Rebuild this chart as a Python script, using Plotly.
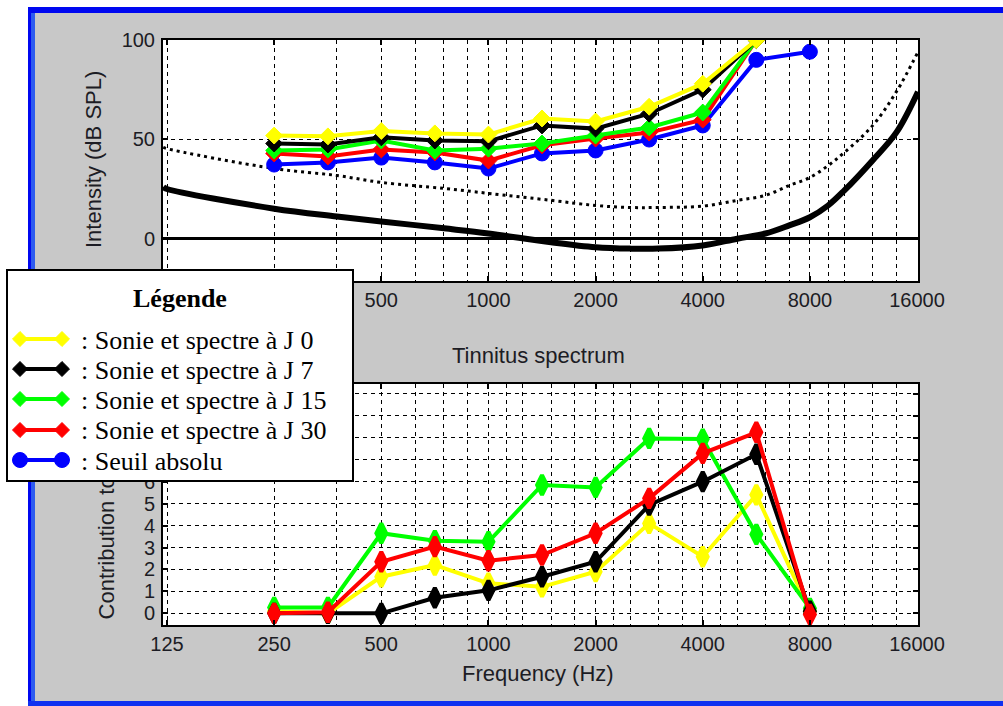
import math
import plotly.graph_objects as go

W, H = 1003, 706

# ---------------- data ----------------
freqs = [250, 354, 500, 707, 1000, 1414, 2000, 2828, 4000, 5657, 8000]
top_freqs = freqs[:10]

# Intensity (dB SPL) - top chart
int_j0 = [51.9, 51.5, 54.2, 53.0, 52.4, 60.5, 59.0, 66.4, 78.0, 100.0]
int_j7 = [47.9, 47.4, 51.0, 49.4, 49.0, 57.0, 55.4, 62.9, 75.0, 100.0]
int_j15 = [44.4, 44.9, 49.4, 44.4, 45.3, 47.9, 51.9, 56.0, 63.5, 100.0]
int_j30 = [42.9, 41.4, 44.9, 43.4, 39.3, 47.0, 50.4, 53.4, 59.9, 100.0]
seuil_abs = [37.3, 38.4, 40.8, 38.4, 35.3, 42.9, 44.4, 49.9, 57.0, 90.0, 94.1]

# reference curves (hearing threshold and dotted curve)
curve_freqs = [122, 125, 250, 375, 500, 750, 1000, 1500, 2000, 2500, 3000, 4000,
               5000, 6000, 7000, 8000, 9000, 10000, 12000, 14000, 16100]
threshold_curve = [26.0, 25.0, 15.1, 11.2, 8.7, 5.2, 2.6, -1.8, -4.3, -5.0, -5.0, -3.4,
                   0.0, 2.6, 6.7, 10.8, 16.7, 24.3, 39.4, 53.5, 74.0]
dotted_curve = [46.0, 45.3, 35.3, 31.8, 28.3, 25.3, 22.8, 19.3, 16.7, 15.7, 15.7, 16.4,
                19.3, 21.8, 26.8, 30.8, 36.8, 43.4, 56.9, 74.0, 94.0]

# Contribution - bottom chart
contrib_j0 = [0.1, 0.0, 1.67, 2.2, 1.37, 1.21, 1.9, 4.1, 2.58, 5.4, 0.1]
contrib_j7 = [0.0, 0.0, 0.0, 0.71, 1.05, 1.67, 2.35, 4.94, 6.0, 7.25, 0.1]
contrib_j15 = [0.27, 0.27, 3.65, 3.31, 3.26, 5.85, 5.74, 7.97, 7.94, 3.6, 0.23]
contrib_j30 = [0.0, 0.05, 2.35, 3.04, 2.4, 2.66, 3.65, 5.24, 7.29, 8.25, -0.05]

x_ticks = [125, 250, 500, 1000, 2000, 4000, 8000, 16000]
x_ticktext = ["125", "250", "500", "1000", "2000", "4000", "8000", "16000"]
x_minor = [375, 625, 750, 875, 1125, 1250, 1500, 1750, 2250, 2500, 3000, 3500,
           4500, 5000, 6000, 7000, 9000, 10000, 12000, 14000]
top_yticks = [0, 50, 100]
bot_yticks = list(range(0, 11))

legend_labels = [": Sonie et spectre à J 0", ": Sonie et spectre à J 7",
                 ": Sonie et spectre à J 15", ": Sonie et spectre à J 30",
                 ": Seuil absolu"]
legend_colors = ["#FFFF00", "#000000", "#00FF00", "#FF0000", "#0000FF"]

# ---------------- helpers ----------------
def px(x):
    return x / W

def py(y):
    return 1 - y / H

SANS = "Liberation Sans, Arial, sans-serif"
SERIF = "Liberation Serif, Times New Roman, serif"
TXT = "#1c1c24"

fig = go.Figure()

# top chart traces
fig.add_trace(go.Scatter(x=curve_freqs, y=threshold_curve, mode="lines",
                         line=dict(color="black", width=6, shape="spline"),
                         xaxis="x", yaxis="y", showlegend=False, hoverinfo="skip"))
fig.add_trace(go.Scatter(x=curve_freqs, y=dotted_curve, mode="lines",
                         line=dict(color="black", width=3, dash="3px,4px", shape="spline"),
                         xaxis="x", yaxis="y", showlegend=False, hoverinfo="skip"))

top_series = [
    (freqs, seuil_abs, "#0000FF", "circle", 15),
    (top_freqs, int_j30, "#FF0000", "diamond", 13),
    (top_freqs, int_j15, "#00FF00", "diamond", 13),
    (top_freqs, int_j7, "#000000", "diamond", 13),
    (top_freqs, int_j0, "#FFFF00", "diamond", 13),
]
for xs, ys, col, sym, sz in top_series:
    fig.add_trace(go.Scatter(x=xs, y=ys, mode="lines+markers",
                             line=dict(color=col, width=4),
                             marker=dict(symbol=sym, size=sz, color=col,
                                         line=dict(color=col, width=1)),
                             xaxis="x", yaxis="y", showlegend=False))

bot_series = [
    (contrib_j0, "#FFFF00"),
    (contrib_j15, "#00FF00"),
    (contrib_j7, "#000000"),
    (contrib_j30, "#FF0000"),
]
for ys, col in bot_series:
    fig.add_trace(go.Scatter(x=freqs, y=ys, mode="lines+markers",
                             line=dict(color=col, width=4),
                             marker=dict(symbol="diamond-tall", size=14, color=col,
                                         line=dict(color=col, width=4)),
                             xaxis="x2", yaxis="y2", showlegend=False))

# ---------------- axes ----------------
xrange = [math.log10(121.8), math.log10(16100)]
dash = "4px,4px"

def xaxis_cfg(dom_anchor):
    return dict(
        type="log", range=xrange, domain=[px(163), px(918)], anchor=dom_anchor,
        tickmode="array", tickvals=x_ticks, ticktext=x_ticktext,
        showgrid=True, gridcolor="black", gridwidth=1, griddash=dash,
        minor=dict(tickmode="array", tickvals=x_minor, showgrid=True,
                   gridcolor="black", gridwidth=1, griddash=dash, ticks=""),
        ticks="inside", ticklen=5, tickwidth=1.5, tickcolor="black",
        showline=True, linecolor="black", linewidth=2, mirror="allticks",
        tickfont=dict(family=SANS, size=20, color=TXT), ticklabelstandoff=0,
        zeroline=False, automargin=False,
    )

xa1 = xaxis_cfg("y")
xa2 = xaxis_cfg("y2")

ya1 = dict(
    range=[-21.3, 100], domain=[py(281), py(40)], anchor="x",
    tickmode="array", tickvals=top_yticks,
    showgrid=True, gridcolor="black", gridwidth=1, griddash=dash,
    zeroline=True, zerolinecolor="black", zerolinewidth=2.5,
    ticks="inside", ticklen=5, tickwidth=1.5, tickcolor="black",
    showline=True, linecolor="black", linewidth=2, mirror="allticks",
    tickfont=dict(family=SANS, size=20, color=TXT), ticklabelstandoff=2,
    automargin=False,
)
ya2 = dict(
    range=[-0.53, 10.45], domain=[py(625), py(384)], anchor="x2",
    tickmode="array", tickvals=bot_yticks,
    showgrid=True, gridcolor="black", gridwidth=1, griddash=dash,
    zeroline=False,
    ticks="inside", ticklen=5, tickwidth=1.5, tickcolor="black",
    showline=True, linecolor="black", linewidth=2, mirror="allticks",
    tickfont=dict(family=SANS, size=20, color=TXT), ticklabelstandoff=2,
    automargin=False,
)

# ---------------- shapes ----------------
shapes = []
# window frame (outside the plot areas)
shapes.append(dict(type="rect", xref="paper", yref="paper", x0=0, x1=px(28), y0=0, y1=1,
                   fillcolor="white", line=dict(width=0), layer="below"))
shapes.append(dict(type="rect", xref="paper", yref="paper", x0=0, x1=1, y0=py(7), y1=1,
                   fillcolor="white", line=dict(width=0), layer="below"))
shapes.append(dict(type="rect", xref="paper", yref="paper", x0=px(28), x1=1, y0=py(13), y1=py(7),
                   fillcolor="#0008F0", line=dict(width=0), layer="below"))
shapes.append(dict(type="rect", xref="paper", yref="paper", x0=px(28), x1=px(31), y0=0, y1=py(7),
                   fillcolor="#0008F0", line=dict(width=0), layer="below"))
shapes.append(dict(type="rect", xref="paper", yref="paper", x0=px(31), x1=px(35), y0=0, y1=py(13),
                   fillcolor="#2E5CF0", line=dict(width=0), layer="below"))
shapes.append(dict(type="rect", xref="paper", yref="paper", x0=px(28), x1=1, y0=0, y1=py(701),
                   fillcolor="#1030F0", line=dict(width=0), layer="below"))

# bottom y-axis title (drawn as a shape label so the legend box can cover it)
shapes.append(dict(type="rect", xref="paper", yref="paper",
                   x0=px(94), x1=px(114), y0=py(622), y1=py(398),
                   line=dict(width=0), fillcolor="rgba(0,0,0,0)", layer="above",
                   label=dict(text="Contribution to tinnitus", textangle=-90,
                              textposition="middle center", padding=0,
                              font=dict(family=SANS, size=22, color=TXT))))

# legend box
shapes.append(dict(type="rect", xref="paper", yref="paper",
                   x0=px(7), x1=px(353), y0=py(481), y1=py(270),
                   fillcolor="white", line=dict(color="black", width=2), layer="above"))

row_y = [339, 369, 399, 430, 460]
for i, (col, yy) in enumerate(zip(legend_colors, row_y)):
    shapes.append(dict(type="line", xref="paper", yref="paper",
                       x0=px(20), x1=px(62), y0=py(yy), y1=py(yy),
                       line=dict(color=col, width=4), layer="above"))
    for cx in (20, 62):
        if i < 4:
            path = "M {:.5f},{:.5f} L {:.5f},{:.5f} L {:.5f},{:.5f} L {:.5f},{:.5f} Z".format(
                px(cx - 7.5), py(yy), px(cx), py(yy - 7.5), px(cx + 7.5), py(yy), px(cx), py(yy + 7.5))
            shapes.append(dict(type="path", xref="paper", yref="paper", path=path,
                               fillcolor=col, line=dict(color=col, width=1), layer="above"))
        else:
            shapes.append(dict(type="circle", xref="paper", yref="paper",
                               x0=px(cx - 7.5), x1=px(cx + 7.5), y0=py(yy + 7.5), y1=py(yy - 7.5),
                               fillcolor=col, line=dict(color=col, width=1), layer="above"))

# ---------------- annotations ----------------
ann = []
ann.append(dict(text="Intensity (dB SPL)", x=px(93), y=py(160), xref="paper", yref="paper",
                textangle=-90, showarrow=False, xanchor="center", yanchor="middle",
                font=dict(family=SANS, size=22, color=TXT)))
ann.append(dict(text="Tinnitus spectrum", x=px(538), y=py(355), xref="paper", yref="paper",
                showarrow=False, xanchor="center", yanchor="middle",
                font=dict(family=SANS, size=22, color=TXT)))
ann.append(dict(text="Frequency (Hz)", x=px(538), y=py(673), xref="paper", yref="paper",
                showarrow=False, xanchor="center", yanchor="middle",
                font=dict(family=SANS, size=22, color=TXT)))
ann.append(dict(text="<b>Légende</b>", x=px(180), y=py(298), xref="paper", yref="paper",
                showarrow=False, xanchor="center", yanchor="middle",
                font=dict(family=SERIF, size=26, color="black")))
for lab, yy in zip(legend_labels, row_y):
    ann.append(dict(text=lab, x=px(79), y=py(yy + 1), xref="paper", yref="paper",
                    showarrow=False, xanchor="left", yanchor="middle",
                    font=dict(family=SERIF, size=26, color="black")))

fig.update_layout(
    width=W, height=H, autosize=False,
    margin=dict(l=0, r=0, t=0, b=0, pad=0, autoexpand=False),
    paper_bgcolor="#C8C8C8", plot_bgcolor="white",
    xaxis=xa1, yaxis=ya1, xaxis2=xa2, yaxis2=ya2,
    shapes=shapes, annotations=ann, showlegend=False,
)

post_js = """
(function(){
  function fix(){
    var s = document.documentElement.style;
    s.margin = '0'; s.padding = '0'; s.overflow = 'hidden';
    var b = document.body.style;
    b.margin = '0'; b.padding = '0'; b.overflow = 'hidden';
    var gd = document.getElementById('{plot_id}');
    if (!gd) { return; }
    gd.style.width = '1003px'; gd.style.height = '706px';
    gd.style.position = 'absolute'; gd.style.left = '0px'; gd.style.top = '0px';
    if (window.Plotly && gd._fullLayout &&
        (gd._fullLayout.width !== 1003 || gd._fullLayout.height !== 706)) {
      Plotly.relayout(gd, {width: 1003, height: 706});
    }
  }
  fix();
  window.addEventListener('load', fix);
})();
"""
fig.write_html("out.html", post_script=post_js,
               config={"responsive": False, "displayModeBar": False})
